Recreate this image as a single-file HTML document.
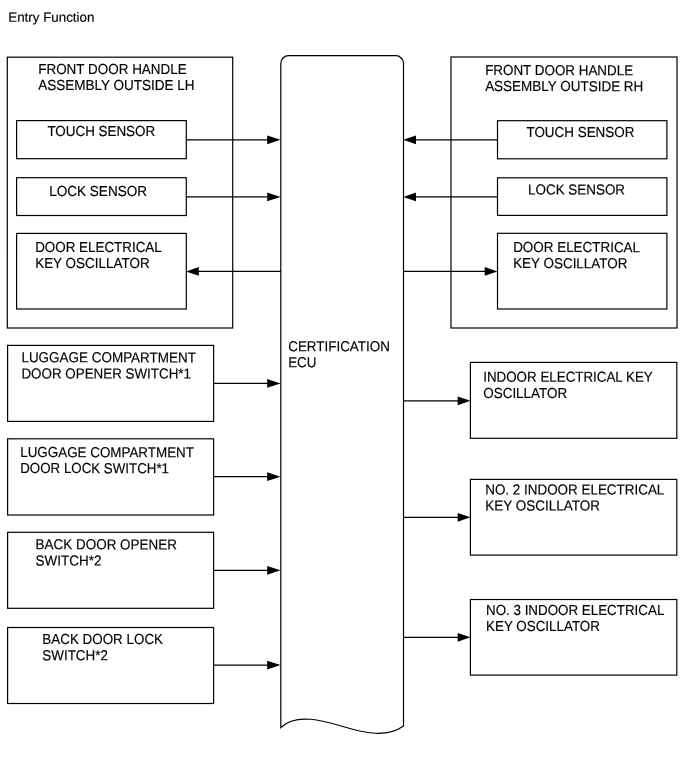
<!DOCTYPE html>
<html><head><meta charset="utf-8"><title>Entry Function</title>
<style>
html,body{margin:0;padding:0;background:#fff;}
svg{display:block;will-change:transform;opacity:0.999;}
svg rect, svg path, svg line{fill:none;stroke:#000;stroke-width:1.2;}
svg path.h{fill:#000;stroke:none;}
svg text{font-family:"Liberation Sans",sans-serif;font-size:13.33px;fill:#000;stroke:#000;stroke-width:0.16px;}
</style></head>
<body>
<svg width="691" height="757" viewBox="0 0 691 757">
<rect x="7.3" y="57.2" width="225.4" height="270.8"/>
<rect x="451" y="57" width="226" height="271"/>
<rect x="16.6" y="120.6" width="169.7" height="38.1"/>
<rect x="16.6" y="177.7" width="169.7" height="37.8"/>
<rect x="16.6" y="233.4" width="169.7" height="75.6"/>
<rect x="497.5" y="120.7" width="169.4" height="38.1"/>
<rect x="497.5" y="177.8" width="169.4" height="37.6"/>
<rect x="497.5" y="233.3" width="169.4" height="75.7"/>
<rect x="7.6" y="345.4" width="206.0" height="76.0"/>
<rect x="7.6" y="438.8" width="206.0" height="76.2"/>
<rect x="7.6" y="532.3" width="206.0" height="76.0"/>
<rect x="7.6" y="627.5" width="206.0" height="76.0"/>
<rect x="470.4" y="362.4" width="206.4" height="75.9"/>
<rect x="470.4" y="479.4" width="206.4" height="75.7"/>
<rect x="470.4" y="599.5" width="206.4" height="75.6"/>
<path d="M280.8,727.5 L280.8,63.4 A7.7,7.7 0 0 1 288.5,55.7 L395.8,55.7 A7.7,7.7 0 0 1 403.5,63.4 L403.5,726 C385,739.5 358,731 342,726.2 C324,720.8 296,712.6 280.8,727.5 Z"/>
<line x1="186.3" y1="139.8" x2="274.5" y2="139.8"/><path class="h" d="M280.5,139.8 L267.2,135.4 L267.2,144.20000000000002 Z"/>
<line x1="186.3" y1="196.9" x2="274.5" y2="196.9"/><path class="h" d="M280.5,196.9 L267.2,192.5 L267.2,201.3 Z"/>
<line x1="192.8" y1="271.4" x2="281" y2="271.4"/><path class="h" d="M186.0,271.4 L198.8,267.0 L198.8,275.79999999999995 Z"/>
<line x1="213.6" y1="383.4" x2="274.5" y2="383.4"/><path class="h" d="M280.5,383.4 L267.2,379.0 L267.2,387.79999999999995 Z"/>
<line x1="213.6" y1="476.7" x2="274.5" y2="476.7"/><path class="h" d="M280.5,476.7 L267.2,472.3 L267.2,481.09999999999997 Z"/>
<line x1="213.6" y1="570.3" x2="274.5" y2="570.3"/><path class="h" d="M280.5,570.3 L267.2,565.9 L267.2,574.6999999999999 Z"/>
<line x1="213.6" y1="665.1" x2="274.5" y2="665.1"/><path class="h" d="M280.5,665.1 L267.2,660.7 L267.2,669.5 Z"/>
<line x1="410" y1="139.8" x2="497.5" y2="139.8"/><path class="h" d="M403.2,139.8 L416.0,135.4 L416.0,144.20000000000002 Z"/>
<line x1="410" y1="196.9" x2="497.5" y2="196.9"/><path class="h" d="M403.2,196.9 L416.0,192.5 L416.0,201.3 Z"/>
<line x1="403.5" y1="271.4" x2="491.5" y2="271.4"/><path class="h" d="M497.5,271.4 L484.7,267.0 L484.7,275.79999999999995 Z"/>
<line x1="403.5" y1="400.8" x2="464.5" y2="400.8"/><path class="h" d="M470.5,400.8 L457.7,396.40000000000003 L457.7,405.2 Z"/>
<line x1="403.5" y1="517.3" x2="464.5" y2="517.3"/><path class="h" d="M470.5,517.3 L457.7,512.9 L457.7,521.6999999999999 Z"/>
<line x1="403.5" y1="637.3" x2="464.5" y2="637.3"/><path class="h" d="M470.5,637.3 L457.7,632.9 L457.7,641.6999999999999 Z"/>
<text transform="translate(8.23,21.77) rotate(0.04) scale(1.0039,1.0)">Entry Function</text>
<text transform="translate(38.20,73.90) rotate(0.04) scale(1.0101,1.09)">FRONT DOOR HANDLE</text>
<text transform="translate(38.20,89.87) rotate(0.04) scale(1.0124,1.09)">ASSEMBLY OUTSIDE LH</text>
<text transform="translate(47.39,136.04) rotate(0.04) scale(1.0072,1.09)">TOUCH SENSOR</text>
<text transform="translate(49.14,195.90) rotate(0.04) scale(1.0177,1.09)">LOCK SENSOR</text>
<text transform="translate(35.15,251.90) rotate(0.04) scale(1.0064,1.09)">DOOR ELECTRICAL</text>
<text transform="translate(35.15,267.95) rotate(0.04) scale(1.0113,1.09)">KEY OSCILLATOR</text>
<text transform="translate(21.41,362.30) rotate(0.04) scale(1.0108,1.09)">LUGGAGE COMPARTMENT</text>
<text transform="translate(21.41,378.50) rotate(0.04) scale(1.0043,1.09)">DOOR OPENER SWITCH*1</text>
<text transform="translate(20.20,457.10) rotate(0.04) scale(1.0068,1.09)">LUGGAGE COMPARTMENT</text>
<text transform="translate(20.20,473.08) rotate(0.04) scale(1.0002,1.09)">DOOR LOCK SWITCH*1</text>
<text transform="translate(35.62,549.33) rotate(0.04) scale(1.0097,1.09)">BACK DOOR OPENER</text>
<text transform="translate(35.62,565.54) rotate(0.04) scale(1.0096,1.09)">SWITCH*2</text>
<text transform="translate(42.35,644.04) rotate(0.04) scale(1.0072,1.09)">BACK DOOR LOCK</text>
<text transform="translate(42.35,660.25) rotate(0.04) scale(1.0061,1.09)">SWITCH*2</text>
<text transform="translate(288.20,351.17) rotate(0.04) scale(1.0078,1.09)">CERTIFICATION</text>
<text transform="translate(288.20,367.30) rotate(0.04) scale(1.0026,1.09)">ECU</text>
<text transform="translate(485.13,75.09) rotate(0.04) scale(1.0071,1.09)">FRONT DOOR HANDLE</text>
<text transform="translate(485.13,91.06) rotate(0.04) scale(1.0120,1.09)">ASSEMBLY OUTSIDE RH</text>
<text transform="translate(526.46,136.89) rotate(0.04) scale(1.0084,1.09)">TOUCH SENSOR</text>
<text transform="translate(528.07,194.48) rotate(0.04) scale(1.0079,1.09)">LOCK SENSOR</text>
<text transform="translate(513.15,252.06) rotate(0.04) scale(1.0088,1.09)">DOOR ELECTRICAL</text>
<text transform="translate(513.15,268.10) rotate(0.04) scale(1.0087,1.09)">KEY OSCILLATOR</text>
<text transform="translate(483.22,381.74) rotate(0.04) scale(1.0030,1.09)">INDOOR ELECTRICAL KEY</text>
<text transform="translate(483.22,397.95) rotate(0.04) scale(1.0101,1.09)">OSCILLATOR</text>
<text transform="translate(485.19,494.50) rotate(0.04) scale(1.0089,1.09)">NO. 2 INDOOR ELECTRICAL</text>
<text transform="translate(485.19,510.46) rotate(0.04) scale(1.0128,1.09)">KEY OSCILLATOR</text>
<text transform="translate(486.01,614.90) rotate(0.04) scale(1.0042,1.09)">NO. 3 INDOOR ELECTRICAL</text>
<text transform="translate(486.01,631.03) rotate(0.04) scale(1.0055,1.09)">KEY OSCILLATOR</text>
</svg>
</body></html>
